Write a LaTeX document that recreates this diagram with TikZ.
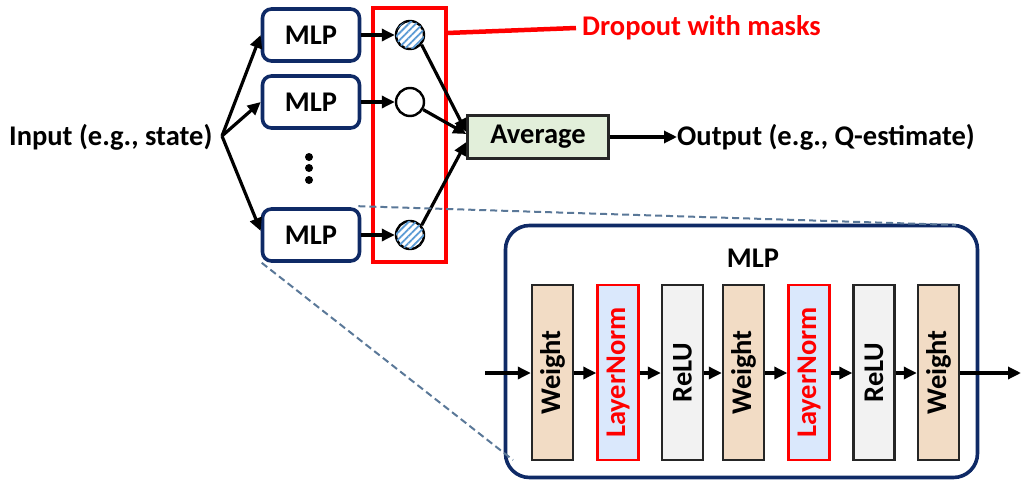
\documentclass[tikz,border=0pt]{standalone}
\usepackage{fontspec}
\setmainfont{Carlito}
\usetikzlibrary{arrows.meta,patterns.meta,calc}
\definecolor{navy}{HTML}{0F2A66}
\definecolor{avgfill}{HTML}{E2EFDA}
\definecolor{wfill}{HTML}{F2DCC5}
\definecolor{lnfill}{HTML}{DAE8FC}
\definecolor{relufill}{HTML}{F2F2F2}
\definecolor{hatch}{HTML}{5B9BD5}
\definecolor{dashc}{HTML}{5A7898}
\definecolor{redc}{HTML}{FF0000}
\begin{document}
\begin{tikzpicture}[x=1pt,y=-1pt,
  font=\fontsize{28.5}{32}\selectfont\bfseries,
  arr/.style={line width=3.2pt,-{Triangle[length=13pt,width=12pt]}},
  mlpbox/.style={draw=navy,line width=3.6pt,rounded corners=9pt,minimum width=97pt,minimum height=52pt,inner sep=0pt},
  drop/.style={circle,draw=black,line width=2.4pt,minimum size=28pt,inner sep=0pt,fill=white},
  hatched/.style={drop,postaction={pattern={Lines[angle=45,distance=5pt,line width=1.8pt]},pattern color=hatch}},
  layer/.style={draw=black!85,line width=2.4pt,minimum width=41pt,minimum height=175pt,inner sep=0pt},
  wl/.style={layer,fill=wfill},
  lnl/.style={layer,draw=redc,fill=lnfill,text=redc},
  rl/.style={layer,fill=relufill},
  dashl/.style={draw=dashc,line width=2pt,dash pattern=on 7pt off 4pt}
]
\useasboundingbox (0,0) rectangle (1021,482);

% input / output
\node[anchor=west,inner sep=0pt] (in) at (9,137) {Input (e.g., state)};
\coordinate (split) at (222,136);
\node[mlpbox] (m1) at (311,35) {MLP};
\node[mlpbox] (m2) at (311,102) {MLP};
\node[mlpbox] (m3) at (311,235) {MLP};
\foreach \yy [count=\i] in {157,168,180} \fill (309,\yy) circle (4pt) coordinate (dot\i);

\node[hatched] (c1) at (410,35) {};
\node[drop] (c2) at (410,102) {};
\node[hatched] (c3) at (410,235) {};

\draw[redc,line width=4.5pt] (373,8) rectangle (446,262);
\coordinate (redr) at (447,33);
\node[anchor=west,inner sep=0pt,text=redc] (dropt) at (582,28) {Dropout with masks};
\draw[redc,line width=4.5pt] (redr) -- ($(dropt.west)+(-6,0)$);

\node[draw=black!85,fill=avgfill,line width=2.4pt,minimum width=141pt,minimum height=43pt,inner sep=0pt] (avg) at (538,137) {Average};
\node[anchor=west,inner sep=0pt] (out) at (677,137) {Output (e.g., Q-estimate)};

\draw[arr] (split) -- (m1.west);
\draw[arr] (split) -- (m2.west);
\draw[arr] (split) -- ($(m3.west)+(0,-4)$);

\draw[arr] (m1.east) -- (c1.west);
\draw[arr] (m2.east) -- (c2.west);
\draw[arr] (m3.east) -- (c3.west);

\draw[arr] (c1.-40) -- ($(avg.west)+(0,-5)$);
\draw[arr] (c2.-30) -- ($(avg.west)+(0,-3)$);
\draw[arr] (c3.40) -- ($(avg.west)+(0,5)$);
\draw[arr] (avg.east) -- (out.west);

% zoomed MLP
\node[draw=navy,line width=3.6pt,rounded corners=24pt,minimum width=472pt,minimum height=252pt,inner sep=0pt] (big) at (741.5,351.5) {};
\node[inner sep=0pt] (bigt) at (753,258) {MLP};
\coordinate (bigtr) at (956,225);
\coordinate (bigbl) at (513,460);
\draw[dashl] (m3.north east) ++(-3,-1) -- (bigtr);
\draw[dashl] (m3.south west) ++(1,0) -- (bigbl);

\node[wl] (L1) at (552.5,372.5) {\rotatebox{90}{Weight}};
\node[lnl] (L2) at (618,372.5) {\rotatebox{90}{LayerNorm}};
\node[rl] (L3) at (682.5,372.5) {\rotatebox{90}{ReLU}};
\node[wl] (L4) at (743.5,372.5) {\rotatebox{90}{Weight}};
\node[lnl] (L5) at (809,372.5) {\rotatebox{90}{LayerNorm}};
\node[rl] (L6) at (874,372.5) {\rotatebox{90}{ReLU}};
\node[wl] (L7) at (938.5,372.5) {\rotatebox{90}{Weight}};
\coordinate (lin) at (485,373);
\coordinate (lout) at (1021,373);
\draw[arr] (lin) -- (L1.west |- lin);
\draw[arr] (L1.east |- lin) -- (L2.west |- lin);
\draw[arr] (L2.east |- lin) -- (L3.west |- lin);
\draw[arr] (L3.east |- lin) -- (L4.west |- lin);
\draw[arr] (L4.east |- lin) -- (L5.west |- lin);
\draw[arr] (L5.east |- lin) -- (L6.west |- lin);
\draw[arr] (L6.east |- lin) -- (L7.west |- lin);
\draw[arr] (L7.east |- lin) -- (lout);
\end{tikzpicture}
\end{document}
